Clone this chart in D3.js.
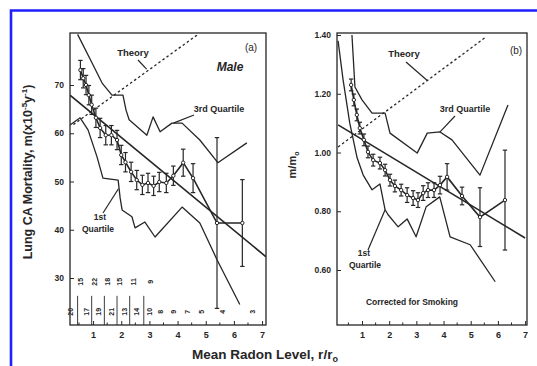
<!DOCTYPE html>
<html>
<head>
<meta charset="utf-8">
<script src="https://cdn.jsdelivr.net/npm/d3@7"></script>
<style>
  html, body { margin: 0; padding: 0; background: #fff; }
  svg { display: block; font-family: 'Liberation Sans', Arial, sans-serif; }
</style>
</head>
<body>
<div id="chart"></div>
<script>
// ---- data: panel (a) male lung cancer mortality vs mean radon level ----
const radonA = [0.55, 0.65, 0.75, 0.85, 0.95, 1.1, 1.25, 1.45, 1.65, 1.85, 2.0, 2.15, 2.35, 2.55, 2.75, 2.95, 3.15, 3.35, 3.6, 3.85, 4.2, 4.55, 5.4, 6.3];
const mortA = [73.1, 71.4, 70.0, 67.9, 65.9, 63.2, 61.1, 59.6, 59.6, 58.6, 55.5, 54.0, 52.0, 50.3, 49.3, 49.7, 49.1, 49.9, 49.7, 51.2, 53.9, 50.7, 41.4, 41.4];
const errA = [2, 2, 2, 2, 2, 2, 2, 2, 2, 2, 2, 2, 2, 2, 2, 2, 2, 2, 2, 2, 2.8, 3, 17.7, 9];
const q1RadonA = [0.18, 0.54, 0.82, 1.14, 1.35, 1.89, 1.96, 2.03, 2.38, 2.49, 2.84, 3.2, 4.16, 4.79, 5.4, 6.21];
const q1MortA = [61.7, 63.2, 60.7, 55.1, 50.7, 50.3, 46.6, 44.1, 42.7, 40.4, 41.6, 38.5, 44.7, 41.4, 33.8, 24.5];
const q3RadonA = [0.45, 0.96, 1.32, 1.67, 2.06, 2.17, 2.28, 2.91, 3.13, 3.38, 3.8, 4.16, 4.79, 5.43, 6.46];
const q3MortA = [80.5, 74.6, 70.4, 67.9, 67.9, 64.8, 62.8, 59.6, 63.4, 60.3, 62.1, 62.1, 58.6, 53.9, 58.0];
const theoryRadonA = [0.3, 4.75];
const theoryMortA = [61.8, 80.6];
const fitRadonA = [0.18, 7.14];
const fitMortA = [67.9, 34.4];
// county counts printed along the bottom of panel (a)
const countUpperRadon = [0.55, 1.05, 1.5, 1.95, 2.45, 3.05];
const countUpper = ['15', '22', '18', '15', '11', '9'];
const countLowerRadon = [0.2, 0.75, 1.2, 1.65, 2.1, 2.55, 3.0, 3.4, 3.85, 4.35, 4.85, 5.6, 6.65];
const countLower = ['20', '17', '19', '21', '13', '14', '10', '8', '9', '7', '5', '4', '3'];
const countSepRadon = [0.45, 0.95, 1.4, 1.85, 2.3, 2.8];

// ---- data: panel (b) corrected for smoking, m/m0 ----
const radonB = [0.6, 0.7, 0.81, 0.92, 1.07, 1.22, 1.41, 1.66, 1.85, 2.03, 2.21, 2.44, 2.66, 2.88, 3.06, 3.25, 3.43, 3.65, 3.87, 4.13, 4.68, 5.34, 6.26];
const ratioB = [1.23, 1.179, 1.128, 1.083, 1.043, 1.002, 0.974, 0.964, 0.94, 0.906, 0.886, 0.872, 0.855, 0.845, 0.838, 0.862, 0.872, 0.872, 0.889, 0.917, 0.852, 0.78, 0.838];
const errB = [0.02, 0.02, 0.02, 0.02, 0.02, 0.02, 0.02, 0.02, 0.02, 0.02, 0.02, 0.02, 0.025, 0.025, 0.025, 0.025, 0.025, 0.025, 0.03, 0.045, 0.03, 0.1, 0.17];
const q1RadonB = [0.12, 0.3, 0.55, 0.82, 1.04, 1.37, 1.66, 1.85, 1.96, 2.33, 2.66, 2.99, 3.36, 3.86, 4.24, 4.98, 5.9];
const q1RatioB = [1.38, 1.25, 1.1, 0.982, 0.924, 0.873, 0.893, 0.805, 0.788, 0.747, 0.774, 0.713, 0.815, 0.849, 0.713, 0.686, 0.560];
const q3RadonB = [0.63, 0.74, 1.0, 1.37, 1.85, 2.03, 3.03, 3.4, 3.87, 4.31, 5.34, 6.37];
const q3RatioB = [1.4, 1.223, 1.179, 1.134, 1.134, 1.066, 0.998, 1.066, 1.07, 1.043, 0.923, 1.162];
const theoryRadonB = [0.12, 5.51];
const theoryRatioB = [1.019, 1.39];
const fitRadonB = [0.12, 7.0];
const fitRatioB = [1.094, 0.709];

const ticksA = [30, 40, 50, 60, 70];
const ticksB = [0.6, 0.8, 1.0, 1.2, 1.4];
const radonTicks = [1, 2, 3, 4, 5, 6, 7];

const width = 537, height = 366;
const ink = '#262626';

const svg = d3.select('#chart').append('svg')
  .attr('width', width).attr('height', height)
  .attr('viewBox', `0 0 ${width} ${height}`);

/* blue page frame */
svg.append('path')
  .attr('d', `M11,${height} V10.5 H${width}`)
  .attr('fill', 'none').attr('stroke', '#1f1fff').attr('stroke-width', 2.6);

const zip = (xs, ys) => xs.map((x, i) => [x, ys[i]]);

function panel({ left, right, top, bottom, xDomain, yDomain, yTicks, yFormat }) {
  const x = d3.scaleLinear().domain(xDomain).range([left, right]);
  const y = d3.scaleLinear().domain(yDomain).range([bottom, top]);
  const g = svg.append('g');

  g.append('rect')
    .attr('x', left).attr('y', top)
    .attr('width', right - left).attr('height', bottom - top)
    .attr('fill', 'none').attr('stroke', ink).attr('stroke-width', 1.3);

  const yAxis = g.append('g')
    .attr('transform', `translate(${left},0)`)
    .call(d3.axisLeft(y).tickValues(yTicks).tickSize(-4).tickPadding(6).tickFormat(yFormat));
  yAxis.select('.domain').remove();
  yAxis.selectAll('line').attr('stroke', ink);
  yAxis.selectAll('text').attr('fill', ink).attr('font-size', 8.5).attr('font-weight', 700);

  const xAxis = g.append('g')
    .attr('transform', `translate(0,${bottom})`)
    .call(d3.axisBottom(x).tickValues(radonTicks).tickSize(-4).tickPadding(7).tickFormat(d3.format('d')));
  xAxis.select('.domain').remove();
  xAxis.selectAll('line').attr('stroke', ink);
  xAxis.selectAll('text').attr('fill', ink).attr('font-size', 9).attr('font-weight', 700);

  // minor ticks at half units
  g.append('g').selectAll('line')
    .data(d3.range(0.5, 7, 1).filter((d) => d > xDomain[0]))
    .join('line')
    .attr('x1', (d) => x(d)).attr('x2', (d) => x(d))
    .attr('y1', bottom).attr('y2', bottom - 2.5)
    .attr('stroke', ink);

  const clipId = `clip-${left}`;
  svg.append('clipPath').attr('id', clipId)
    .append('rect').attr('x', left).attr('y', top)
    .attr('width', right - left).attr('height', bottom - top);
  const plot = g.append('g').attr('clip-path', `url(#${clipId})`);

  return { x, y, g, plot };
}

function drawSeries(p, xs, ys, errs, quartiles, theory, fit) {
  const line = d3.line().x((d) => p.x(d[0])).y((d) => p.y(d[1]));

  p.plot.append('path')
    .datum(zip(theory[0], theory[1]))
    .attr('d', line).attr('fill', 'none')
    .attr('stroke', ink).attr('stroke-width', 1.3).attr('stroke-dasharray', '2.5,2.5');

  quartiles.forEach(([qx, qy]) => {
    p.plot.append('path')
      .datum(zip(qx, qy))
      .attr('d', line).attr('fill', 'none')
      .attr('stroke', ink).attr('stroke-width', 1.3).attr('stroke-linejoin', 'round');
  });

  p.plot.append('path')
    .datum(zip(fit[0], fit[1]))
    .attr('d', line).attr('fill', 'none')
    .attr('stroke', ink).attr('stroke-width', 1.6);

  const pts = xs.map((v, i) => ({ v, m: ys[i], e: errs[i] }));

  p.plot.append('path')
    .datum(pts.map((d) => [d.v, d.m]))
    .attr('d', line).attr('fill', 'none')
    .attr('stroke', ink).attr('stroke-width', 1.6);

  const bars = p.plot.append('g').selectAll('g').data(pts).join('g');
  bars.append('line')
    .attr('x1', (d) => p.x(d.v)).attr('x2', (d) => p.x(d.v))
    .attr('y1', (d) => p.y(d.m - d.e)).attr('y2', (d) => p.y(d.m + d.e))
    .attr('stroke', ink).attr('stroke-width', 1.2);
  bars.selectAll('line.cap')
    .data((d) => [d.m - d.e, d.m + d.e].map((m) => ({ v: d.v, m })))
    .join('line').attr('class', 'cap')
    .attr('x1', (d) => p.x(d.v) - 2.2).attr('x2', (d) => p.x(d.v) + 2.2)
    .attr('y1', (d) => p.y(d.m)).attr('y2', (d) => p.y(d.m))
    .attr('stroke', ink).attr('stroke-width', 1.2);
  bars.append('circle')
    .attr('cx', (d) => p.x(d.v)).attr('cy', (d) => p.y(d.m))
    .attr('r', 1.7).attr('fill', '#fff').attr('stroke', ink).attr('stroke-width', 1);
}

function label(g, x, y, text, size, opts = {}) {
  return g.append('text')
    .attr('x', x).attr('y', y)
    .attr('fill', ink).attr('font-size', size)
    .attr('font-weight', opts.weight ?? 700)
    .attr('font-style', opts.style ?? 'normal')
    .attr('text-anchor', opts.anchor ?? 'middle')
    .text(text);
}

function leader(g, x1, y1, x2, y2) {
  g.append('line').attr('x1', x1).attr('y1', y1).attr('x2', x2).attr('y2', y2)
    .attr('stroke', ink).attr('stroke-width', 1.2);
}

/* Panel (a) */
const pa = panel({
  left: 70, right: 266, top: 33, bottom: 325,
  xDomain: [0.18, 7.14], yDomain: [20.26, 80.78],
  yTicks: ticksA, yFormat: d3.format('d'),
});
drawSeries(pa, radonA, mortA, errA,
  [[q1RadonA, q1MortA], [q3RadonA, q3MortA]],
  [theoryRadonA, theoryMortA], [fitRadonA, fitMortA]);

label(pa.g, 133, 56, 'Theory', 9.5);
leader(pa.g, 138, 60, pa.x(2.9), pa.y(73.3));
label(pa.g, 230, 71, 'Male', 12, { style: 'italic' });
label(pa.g, 251, 51, '(a)', 10, { weight: 400 });
label(pa.g, 219, 112, '3rd Quartile', 9);
leader(pa.g, pa.x(3.85), pa.y(62.1), 194, 115);
label(pa.g, 100, 220, '1st', 8.5);
label(pa.g, 98, 232, 'Quartile', 8.5);
leader(pa.g, 103, 213, pa.x(1.9), pa.y(48.5));

// county counts along the bottom
pa.g.append('g').selectAll('text')
  .data(countUpperRadon.map((v, i) => ({ v, t: countUpper[i] })))
  .join('text')
  .attr('transform', (d) => `translate(${pa.x(d.v) + 2.5},${pa.y(29.2)}) rotate(-90)`)
  .attr('text-anchor', 'middle').attr('font-size', 7).attr('font-weight', 700).attr('fill', ink)
  .text((d) => d.t);
pa.g.append('g').selectAll('text')
  .data(countLowerRadon.map((v, i) => ({ v, t: countLower[i] })))
  .join('text')
  .attr('transform', (d) => `translate(${pa.x(d.v) + 2.5},${pa.y(23)}) rotate(-90)`)
  .attr('text-anchor', 'middle').attr('font-size', 7).attr('font-weight', 700).attr('fill', ink)
  .text((d) => d.t);
pa.g.append('g').selectAll('line')
  .data(countSepRadon)
  .join('line')
  .attr('x1', (d) => pa.x(d)).attr('x2', (d) => pa.x(d))
  .attr('y1', pa.y(26.3)).attr('y2', pa.y(20.26))
  .attr('stroke', ink).attr('stroke-width', 0.9);

/* Panel (b) */
const pb = panel({
  left: 337, right: 527, top: 33, bottom: 325,
  xDomain: [0.08, 7.07], yDomain: [0.4128, 1.4068],
  yTicks: ticksB, yFormat: d3.format('.2f'),
});
drawSeries(pb, radonB, ratioB, errB,
  [[q1RadonB, q1RatioB], [q3RadonB, q3RatioB]],
  [theoryRadonB, theoryRatioB], [fitRadonB, fitRatioB]);

label(pb.g, 404, 57, 'Theory', 9.5);
leader(pb.g, 406, 62, pb.x(3.4), pb.y(1.245));
label(pb.g, 516, 54, '(b)', 10, { weight: 400 });
label(pb.g, 465, 112, '3rd Quartile', 9);
leader(pb.g, pb.x(3.87), pb.y(1.07), 455, 116);
label(pb.g, 364, 256, '1st', 8.5);
label(pb.g, 365, 268, 'Quartile', 8.5);
leader(pb.g, 368, 250, pb.x(1.85), pb.y(0.805));
label(pb.g, 412, 305, 'Corrected for Smoking', 8.5);

/* axis titles */
svg.append('text')
  .attr('transform', 'translate(32,172) rotate(-90)')
  .attr('text-anchor', 'middle').attr('fill', ink)
  .attr('font-size', 12.5).attr('font-weight', 700)
  .call((t) => {
    t.append('tspan').text('Lung CA Mortality, m(x10');
    t.append('tspan').attr('font-size', 8).attr('dy', -5).text('-5');
    t.append('tspan').attr('dy', 5).text('y');
    t.append('tspan').attr('font-size', 8).attr('dy', -5).text('-1');
    t.append('tspan').attr('dy', 5).text(')');
  });

svg.append('text')
  .attr('transform', 'translate(296,165) rotate(-90)')
  .attr('text-anchor', 'middle').attr('fill', ink)
  .attr('font-size', 11).attr('font-weight', 700)
  .call((t) => {
    t.append('tspan').text('m/m');
    t.append('tspan').attr('font-size', 7).attr('dy', 3).text('o');
  });

svg.append('text')
  .attr('x', 265).attr('y', 359)
  .attr('text-anchor', 'middle').attr('fill', ink)
  .attr('font-size', 13.5).attr('font-weight', 700)
  .call((t) => {
    t.append('tspan').text('Mean Radon Level, r/r');
    t.append('tspan').attr('font-size', 9).attr('dy', 3).text('o');
  });
</script>
</body>
</html>
